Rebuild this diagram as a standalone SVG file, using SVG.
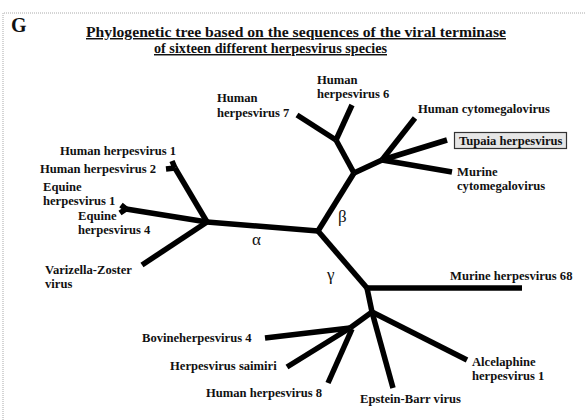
<svg xmlns="http://www.w3.org/2000/svg" width="585" height="420" viewBox="0 0 585 420">
<defs>
<style>
.lbl{font-family:"Liberation Serif","Times New Roman",serif;font-weight:bold;font-size:12.6px;fill:#111}
.ttl{font-family:"Liberation Serif","Times New Roman",serif;font-weight:bold;font-size:14.6px;fill:#111;text-decoration:underline}
.grk{font-family:"Liberation Serif","Times New Roman",serif;font-size:17px;fill:#111}
.br{stroke:#000;stroke-width:5.5;fill:none;stroke-linecap:butt;stroke-linejoin:round}
.frame{stroke:#aaa;stroke-width:1;stroke-dasharray:1 1;fill:none}
</style>
</defs>
<rect width="585" height="420" fill="#fff"/>
<path class="frame" d="M3,420 V13 H585"/>
<text x="11" y="32" font-family="Liberation Serif, serif" font-weight="bold" font-size="20" fill="#111">G</text>
<text class="ttl" x="86" y="37" textLength="420" lengthAdjust="spacingAndGlyphs">Phylogenetic tree based on the sequences of the viral terminase</text>
<text class="ttl" x="154" y="53" textLength="233" lengthAdjust="spacingAndGlyphs">of sixteen different herpesvirus species</text>

<g id="connectors">
<path class="br" d="M207,222 L318,231"/>
<path class="br" d="M207,222 L175,168"/>
<path class="br" d="M175,168 L172,161 M175,168 L166,169"/>
<path class="br" d="M207,222 L126,209"/>
<path class="br" d="M126,209 L121,205 M126,209 L120,213"/>
<path class="br" d="M207,222 L142,265"/>
<path class="br" d="M318,231 L354,173"/>
<path class="br" d="M354,173 L336,140"/>
<path class="br" d="M336,140 L297,115"/>
<path class="br" d="M336,140 L352,105"/>
<path class="br" d="M354,173 L382,160"/>
<path class="br" d="M382,160 L415,118"/>
<path class="br" d="M382,160 L447,140"/>
<path class="br" d="M382,160 L452,172"/>
<path class="br" d="M318,231 L367,288"/>
<path class="br" d="M367,288 L522,288"/>
<path class="br" d="M367,288 L372,312"/>
<path class="br" d="M372,312 L393,388"/>
<path class="br" d="M372,312 L467,360"/>
<path class="br" d="M372,312 L350,328"/>
<path class="br" d="M350,328 L265,338"/>
<path class="br" d="M350,328 L287,367"/>
<path class="br" d="M352,329 L328,383"/>
</g>
<g id="greek">
<text class="grk" x="252" y="245">α</text>
<text class="grk" x="338" y="222">β</text>
<text class="grk" x="327" y="280">γ</text>
</g>
<g id="hhv1"><text class="lbl" x="60" y="155">Human herpesvirus 1</text></g>
<g id="hhv2"><text class="lbl" x="40" y="173">Human herpesvirus 2</text></g>
<g id="ehv1"><text class="lbl" x="43" y="191">Equine</text><text class="lbl" x="43" y="205">herpesvirus 1</text></g>
<g id="ehv4"><text class="lbl" x="78" y="220">Equine</text><text class="lbl" x="78" y="234">herpesvirus 4</text></g>
<g id="vzv"><text class="lbl" x="45" y="274">Varizella-Zoster</text><text class="lbl" x="45" y="288">virus</text></g>
<g id="hhv7"><text class="lbl" x="217" y="102">Human</text><text class="lbl" x="217" y="117">herpesvirus 7</text></g>
<g id="hhv6"><text class="lbl" x="317" y="84">Human</text><text class="lbl" x="317" y="98">herpesvirus 6</text></g>
<g id="hcmv"><text class="lbl" x="418" y="113">Human cytomegalovirus</text></g>
<g id="tupaia"><rect x="454.5" y="132.5" width="112" height="16" fill="#e6e6e6" stroke="#333" stroke-width="1.2"/><text class="lbl" x="459" y="145">Tupaia herpesvirus</text></g>
<g id="mcmv"><text class="lbl" x="457" y="176">Murine</text><text class="lbl" x="457" y="190">cytomegalovirus</text></g>
<g id="mhv68"><text class="lbl" x="450" y="280">Murine herpesvirus 68</text></g>
<g id="bhv4"><text class="lbl" x="142" y="342">Bovineherpesvirus 4</text></g>
<g id="hvs"><text class="lbl" x="170" y="370">Herpesvirus saimiri</text></g>
<g id="hhv8"><text class="lbl" x="206" y="397">Human herpesvirus 8</text></g>
<g id="ebv"><text class="lbl" x="360" y="403">Epstein-Barr virus</text></g>
<g id="alhv1"><text class="lbl" x="472" y="366">Alcelaphine</text><text class="lbl" x="472" y="380">herpesvirus 1</text></g>
</svg>
